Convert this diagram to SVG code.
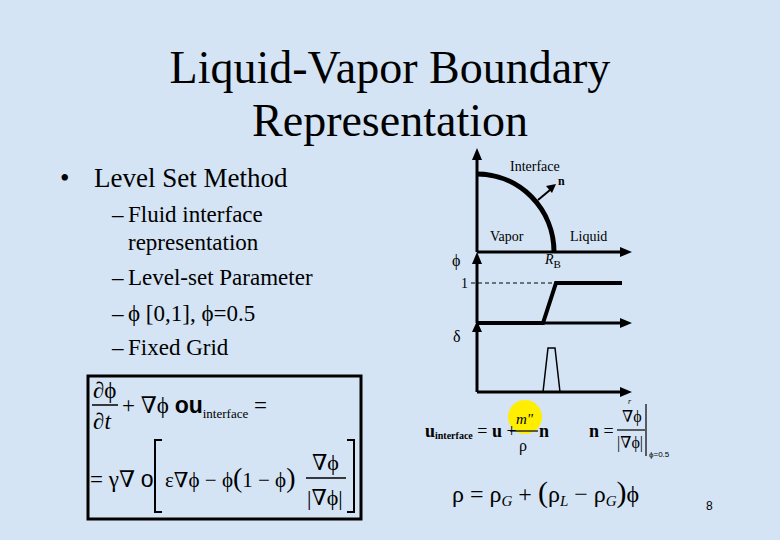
<svg xmlns="http://www.w3.org/2000/svg" width="780" height="540" viewBox="0 0 780 540">
<style>
.a{font-family:"Liberation Sans",sans-serif;fill:#000}
.ax{stroke:#000;stroke-width:3;fill:none}
</style>
<rect width="780" height="540" fill="#d4e4f4"/>
<g font-family="Liberation Serif, DejaVu Serif, serif" fill="#000">
<text x="390" y="83" font-size="46" text-anchor="middle">Liquid-Vapor Boundary</text>
<text x="390" y="136" font-size="46" text-anchor="middle">Representation</text>
<g id="bullets">
<text x="60" y="187" font-size="27">•</text>
<text x="94" y="187" font-size="27">Level Set Method</text>
<text x="112" y="222" font-size="23">–</text><text x="128" y="222" font-size="23">Fluid interface</text>
<text x="128" y="250" font-size="23">representation</text>
<text x="112" y="285" font-size="23">–</text><text x="128" y="285" font-size="23">Level-set Parameter</text>
<text x="112" y="321" font-size="23">–</text><text x="128" y="321" font-size="23">ϕ [0,1], ϕ=0.5</text>
<text x="112" y="355" font-size="23">–</text><text x="128" y="355" font-size="23">Fixed Grid</text>
</g>
<g id="box">
<rect x="88" y="376" width="273" height="143" fill="#d4e4f4" stroke="#000" stroke-width="3"/>
<text x="93" y="398" font-size="23">∂ϕ</text>
<line x1="92" y1="405" x2="118" y2="405" stroke="#000" stroke-width="1.5"/>
<text x="93" y="429" font-size="23">∂<tspan font-style="italic">t</tspan></text>
<text x="122" y="413" font-size="23">+ ∇ϕ <tspan font-family="Liberation Sans" font-weight="bold">ou</tspan><tspan font-size="13" dy="5">interface</tspan><tspan dy="-5"> =</tspan></text>
<text x="90" y="487" font-size="23">= γ∇ <tspan font-family="Liberation Sans">o</tspan></text>
<path d="M162,440 h-7 v72 h7 M347,440 h7 v72 h-7" fill="none" stroke="#000" stroke-width="2"/>
<text x="165" y="487" font-size="21">ε∇ϕ − ϕ<tspan font-size="28">(</tspan>1 − ϕ<tspan font-size="28">)</tspan></text>
<text x="312" y="470" font-size="22">∇ϕ</text>
<line x1="306" y1="478" x2="346" y2="478" stroke="#000" stroke-width="1.5"/>
<text x="307" y="505" font-size="22">|∇ϕ|</text>
</g>
<g id="plot">
<path class="ax" d="M477,252 V158 M477,252 H624 M477,323 V262 M477,323 H624 M477,392 V330 M477,392 H624"/>
<path d="M472,160 L477,148 L482,160Z M472,264 L477,252 L482,264Z M472,332 L477,321 L482,332Z M620,247 L632,252 L620,257Z M620,318 L632,323 L620,328Z M620,387 L632,392 L620,397Z" fill="#000"/>
<path d="M477,174 A77,78 0 0 1 554,252" fill="none" stroke="#000" stroke-width="5"/>
<path d="M538,200 L550,190" stroke="#000" stroke-width="2"/>
<path d="M546,186 L556,184 L552,193Z" fill="#000"/>
<text x="510" y="171" font-size="14">Interface</text>
<text x="558" y="185" font-size="12" font-weight="bold">n</text>
<text x="490" y="241" font-size="14">Vapor</text>
<text x="570" y="241" font-size="14">Liquid</text>
<text x="545" y="264" font-size="14" font-style="italic">R<tspan font-size="11" font-style="normal" dy="4">B</tspan></text>
<text x="452" y="266" font-size="16">ϕ</text>
<text x="461" y="288" font-size="14">1</text>
<line x1="471" y1="283" x2="556" y2="283" stroke="#000" stroke-dasharray="4,3"/>
<path d="M477,323 H543 L556,283 H622" fill="none" stroke="#000" stroke-width="4"/>
<text x="453" y="342" font-size="16">δ</text>
<path d="M543,392 L548,348 H555 L560,392" fill="none" stroke="#000" stroke-width="1.5"/>
<text x="628" y="404" font-size="8" font-style="italic">r</text>
</g>
<g id="eqs">
<circle cx="525" cy="417" r="17" fill="#ffee00"/>
<text x="425" y="437" font-size="18" font-weight="bold">u<tspan font-size="10" dy="2">interface</tspan><tspan dy="-2" font-weight="normal"> = </tspan>u<tspan font-weight="normal"> +</tspan></text>
<text x="516" y="424" font-size="15" font-style="italic">m"</text>
<line x1="510" y1="431" x2="538" y2="431" stroke="#000" stroke-width="1.2"/>
<text x="539" y="437" font-size="18" font-weight="bold">n</text>
<text x="519" y="451" font-size="16">ρ</text>
<text x="589" y="437" font-size="18" font-weight="bold">n<tspan font-weight="normal"> =</tspan></text>
<text x="622" y="422" font-size="16">∇ϕ</text>
<line x1="617" y1="430" x2="645" y2="430" stroke="#000" stroke-width="1.2"/>
<text x="617" y="448" font-size="16">|∇ϕ|</text>
<line x1="646" y1="404" x2="646" y2="456" stroke="#000" stroke-width="1.2"/>
<text class="a" x="649" y="457" font-size="8">ϕ=0.5</text>
<text x="452" y="502" font-size="24">ρ = ρ<tspan font-size="15" font-style="italic" dy="4">G</tspan><tspan dy="-4"> + </tspan><tspan font-size="30">(</tspan>ρ<tspan font-size="15" font-style="italic" dy="4">L</tspan><tspan dy="-4"> − ρ</tspan><tspan font-size="15" font-style="italic" dy="4">G</tspan><tspan dy="-4" font-size="30">)</tspan>ϕ</text>
<text class="a" x="706" y="510" font-size="12">8</text>
</g>
</g>
</svg>
